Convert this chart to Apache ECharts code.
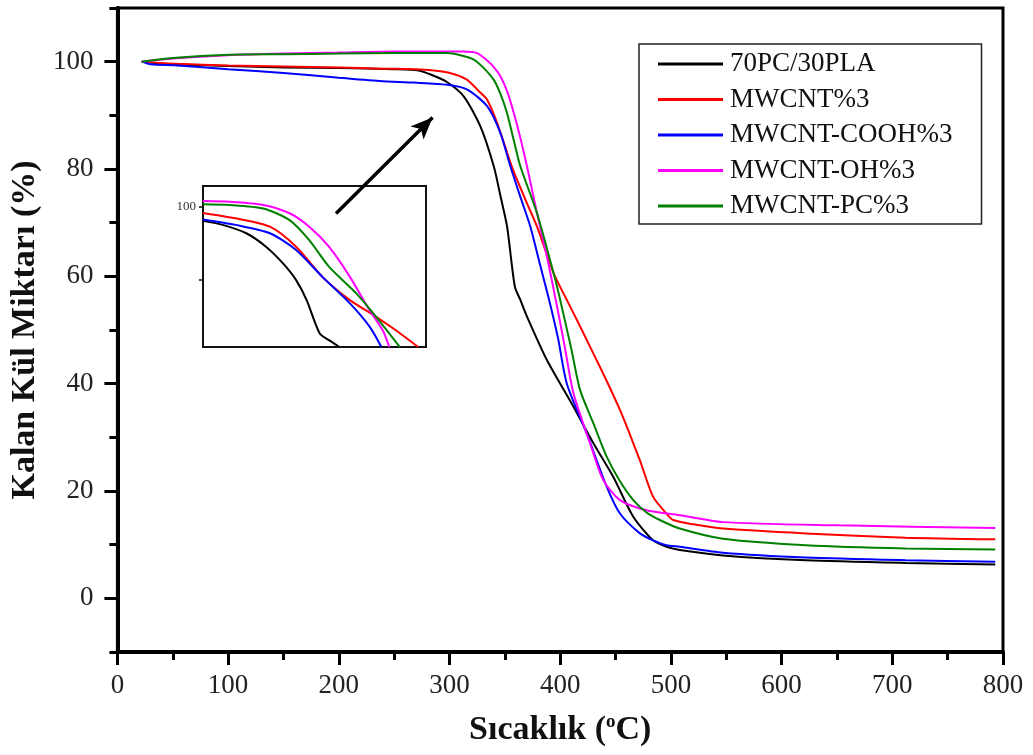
<!DOCTYPE html>
<html>
<head>
<meta charset="utf-8">
<script src="https://cdn.jsdelivr.net/npm/echarts@6/dist/echarts.min.js"></script>
<style>html,body{margin:0;padding:0;background:#fff}#chart{width:1033px;height:755px}</style>
</head>
<body>
<div id="chart"></div>
<script>
// ---- Series names ----
const seriesNames = ['70PC/30PLA', 'MWCNT%3', 'MWCNT-COOH%3', 'MWCNT-OH%3', 'MWCNT-PC%3'];
const seriesColors = ['#000000', '#ff0000', '#0000ff', '#ff00ff', '#008000'];

// ---- Main plot data (temperature °C, residual mass %) ----
const pcplaT = [22,50,100,150,200,250,271,283,297,313,328,340,346,352,359,364,370,388,412,430,448,466,484,496,508,547,622,712,793];
const pcplaW = [100,99.5,99.2,98.9,98.8,98.6,98.4,97.6,96.3,93.5,87.9,80.5,75,69.3,58.1,55.6,52.5,44.4,35.7,28.9,22.6,15.2,10.8,9.6,9.0,8.0,7.1,6.6,6.3];

const cntT = [22,54,100,150,200,238,270,292,305,316,328,334,343,355,361,370,379,394,405,416,430,442,454,463,472,484,496,502,520,547,622,712,793];
const cntW = [100,99.6,99.3,99.1,98.9,98.7,98.6,98.2,97.6,96.6,94.2,92.9,88.6,81.2,78,73.6,69.3,60.6,56,51.5,45.6,40.5,35.1,30.5,25.7,18.9,15.8,14.6,13.8,13,12.1,11.3,11.0];

const coohT = [22,30,54,100,150,200,237,268,298,316,334,346,355,364,373,382,390,398,406,424,442,454,472,484,496,508,547,622,712,793];
const coohW = [100,99.5,99.3,98.6,97.9,97.0,96.4,96.1,95.7,94.8,91.7,86.7,80.5,74.8,69.3,62,55.6,48.5,40,30.7,20.8,15.8,12.1,10.8,9.9,9.6,8.5,7.6,7.1,6.8];

const ohT = [22,50,100,150,200,250,313,325,334,340,346,352,358,364,370,379,388,396,404,412,427,439,454,478,508,547,652,793];
const ohW = [100,100.6,101.2,101.5,101.7,101.9,101.9,101.6,100.2,99,97.3,94.5,90.5,85.8,80.5,71.8,63.7,55.6,47,38.2,28.9,22,18.3,16.4,15.5,14.2,13.6,13.1];

const pcT = [22,50,100,150,200,250,298,310,322,331,340,346,352,358,364,379,394,400,410,418,430,442,454,466,478,490,508,547,622,712,793];
const pcW = [100,100.7,101.3,101.4,101.5,101.6,101.6,101.2,100.4,98.8,96.6,94,90.4,85.4,80.5,71.8,60.6,55.6,46.5,38.8,32.6,26.4,21.8,18.3,16,14.6,13,11.1,9.9,9.3,9.1];

// ---- Inset data (zoom on onset region) ----
const inPcplaT = [270,285,303,318,331,341,349,359,366,374];
const inPcplaW = [96.1,95,92.7,89,84.4,79.8,74.3,65.1,63.3,61.4];
const inCntT = [270,295,321,341,361,382,402,417,434];
const inCntW = [98.3,96.8,94.5,89,80.7,74.3,69.7,66,61.4];
const inCoohT = [270,295,321,341,361,382,397,406];
const inCoohW = [96.5,95,92.7,88.1,80.7,73.4,67,61.4];
const inOhT = [270,290,316,336,351,366,382,397,407,412];
const inOhW = [101.6,101.4,100.5,98.2,94.5,89,80.7,71.5,66,61.4];
const inPcT = [270,290,316,336,351,366,387,402,420];
const inPcW = [100.7,100.5,99.5,96.3,90.8,83.5,76.1,69.7,61.4];

// ---- Axis ticks ----
const xMajorTicks = [0,100,200,300,400,500,600,700,800];
const yMajorTicks = [0,20,40,60,80,100];
const yMinorTicks = [-10,10,30,50,70,90,110];
const insetYTicks = [80,100];
const insetYLabels = [100];

// ---- Arrow annotation (from, to) in data coords ----
const arrowFrom = [197.5, 71.7];
const arrowTo = [284.7, 89.6];

const FONT = 'Liberation Serif';
const zip = (a, b) => a.map((v, i) => [v, b[i]]);

const mainData = [zip(pcplaT, pcplaW), zip(cntT, cntW), zip(coohT, coohW), zip(ohT, ohW), zip(pcT, pcW)];
const insetData = [zip(inPcplaT, inPcplaW), zip(inCntT, inCntW), zip(inCoohT, inCoohW), zip(inOhT, inOhW), zip(inPcT, inPcW)];

const series = [];
mainData.forEach((d, i) => {
  const s = {
    name: seriesNames[i], type: 'line', data: d, xAxisIndex: 0, yAxisIndex: 0,
    symbol: 'none', smooth: 0.25,
    lineStyle: { color: seriesColors[i], width: 2 }, itemStyle: { color: seriesColors[i] },
    z: 2 + i
  };
  if (i === 0) {
    s.markLine = {
      silent: true, symbol: ['none', 'arrow'], symbolSize: [14, 22], z: 30,
      lineStyle: { color: '#000', width: 3.5, type: 'solid' },
      label: { show: false }, emphasis: { disabled: true },
      data: [[{ coord: arrowFrom }, { coord: arrowTo }]]
    };
  }
  series.push(s);
});
insetData.forEach((d, i) => {
  series.push({
    name: seriesNames[i] + ' (inset)', type: 'line', data: d, xAxisIndex: 1, yAxisIndex: 2,
    symbol: 'none', smooth: 0.25, clip: true,
    lineStyle: { color: seriesColors[i], width: 2 }, itemStyle: { color: seriesColors[i] },
    z: 12 + i
  });
});

const chart = echarts.init(document.getElementById('chart'), null, { renderer: 'canvas' });
chart.setOption({
  animation: false,
  backgroundColor: '#ffffff',
  grid: [
    { left: 116, right: 30, top: 8, bottom: 103, show: true, borderColor: '#000', borderWidth: 3 },
    { left: 203, top: 186, width: 223, height: 161, show: true, borderColor: '#111', borderWidth: 2 }
  ],
  legend: {
    data: seriesNames.map(n => ({ name: n, icon: 'rect' })), orient: 'vertical', left: 639, top: 44,
    padding: [6, 29, 4, 19], itemGap: 7.5, itemWidth: 65, itemHeight: 3,
    borderColor: '#222', borderWidth: 1.5, backgroundColor: '#fff',
    textStyle: { fontFamily: FONT, fontSize: 27, color: '#111', lineHeight: 28, padding: [0, 0, 0, 2] },
    selectedMode: false
  },
  xAxis: [
    {
      type: 'value', gridIndex: 0, min: 0, max: 800, interval: 100,
      name: 'Sıcaklık ({s|o}C)', nameLocation: 'middle', nameGap: 61,
      nameTextStyle: {
        fontFamily: FONT, fontSize: 34, fontWeight: 'bold', color: '#111',
        rich: { s: { fontFamily: FONT, fontSize: 19, color: '#111', verticalAlign: 'top' } }
      },
      axisLine: { show: true, onZero: false, lineStyle: { color: '#000', width: 4 } },
      axisTick: { show: true, length: 13, lineStyle: { color: '#000', width: 3 } },
      minorTick: { show: true, splitNumber: 2, length: 8, lineStyle: { color: '#000', width: 3 } },
      axisLabel: { margin: 20, fontFamily: FONT, fontSize: 27, color: '#222', customValues: xMajorTicks },
      splitLine: { show: false }
    },
    {
      type: 'value', gridIndex: 1, min: 270, max: 440,
      axisLine: { show: false, onZero: false }, axisTick: { show: false }, axisLabel: { show: false }, splitLine: { show: false }
    }
  ],
  yAxis: [
    {
      type: 'value', gridIndex: 0, min: -10, max: 110, interval: 10, position: 'left',
      name: 'Kalan Kül Miktarı (%)', nameLocation: 'middle', nameGap: 66,
      nameTextStyle: { fontFamily: FONT, fontSize: 34, fontWeight: 'bold', color: '#111' },
      axisLine: { show: true, onZero: false, lineStyle: { color: '#000', width: 4 } },
      axisTick: { show: true, length: 13, lineStyle: { color: '#000', width: 3 }, customValues: yMajorTicks },
      axisLabel: { margin: 24, fontFamily: FONT, fontSize: 27, color: '#222', customValues: yMajorTicks },
      splitLine: { show: false }
    },
    {
      type: 'value', gridIndex: 0, min: -10, max: 110, interval: 10, position: 'left', offset: 0,
      axisLine: { show: false, onZero: false },
      axisTick: { show: true, length: 8, lineStyle: { color: '#000', width: 3 }, customValues: yMinorTicks },
      axisLabel: { show: false }, splitLine: { show: false }
    },
    {
      type: 'value', gridIndex: 1, min: 61.4, max: 105.7, position: 'left',
      axisLine: { show: false, onZero: false },
      axisTick: { show: true, length: 4, lineStyle: { color: '#111', width: 1.5 }, customValues: insetYTicks },
      axisLabel: { margin: 7, fontFamily: FONT, fontSize: 13, color: '#333', customValues: insetYLabels },
      splitLine: { show: false }
    }
  ],
  series: series
});
</script>
</body>
</html>
